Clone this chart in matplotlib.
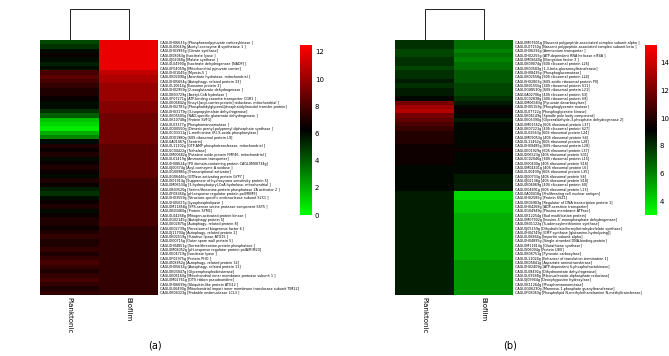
import numpy as np
import matplotlib.pyplot as plt
from matplotlib.colors import LinearSegmentedColormap

samples = ["Planktonic", "Biofilm"]

a_genes = [
    "CAGL0H06633g [Phosphoenolpyruvate carboxykinase ]",
    "CAGL0L00649g [Acetyl-coenzyme A synthetase 1 ]",
    "CAGL0H03993g [Citrate synthase]",
    "CAGL0I08063g [Isocitrate lyase ]",
    "CAGL0J02068g [Malate synthase ]",
    "CAGL0L04990g [Isocitrate dehydrogenase [NADP] ]",
    "CAGL0F04059g [Mitochondrial pyruvate carrier]",
    "CAGL0H01045g [Myosin-5 ]",
    "CAGL0K02090g [Aconitate hydratase, mitochondrial ]",
    "CAGL0H05654g [Autophagy- related protein 33]",
    "CAGL0L10614g [Exosome protein 1]",
    "CAGL0H02959g [2-oxoglutarate dehydrogenase ]",
    "CAGL0B03729g [Acetyl-CoA hydrolase ]",
    "CAGL0F07271g [ATP-binding cassette transporter CGR1 ]",
    "CAGL0E06842g [Enoyl-[acyl-carrier-protein] reductase, mitochondrial ]",
    "CAGL0H02783g [Phosphatidylglycerol/phosphatidylinositol transfer protein]",
    "CAGL0H03179g [3-isopropylmalate dehydrogenase]",
    "CAGL0K05505g [NAD-specific glutamate dehydrogenase ]",
    "CAGL0K10748g [Protein SVF1]",
    "CAGL0L03377g [Phosphomannomutase ]",
    "CAGL0D00550g [Dimeric prenyl-polyprenyl diphosphate synthase ]",
    "CAGL0C03311g [L-methionine (R)-S-oxide phosphorylase]",
    "CAGL0D01980g [60S ribosomal protein L9]",
    "CAGL0A01067g [Sentrin]",
    "CAGL0L11102g [GTP-AMP phosphotransferase, mitochondrial ]",
    "CAGL0C04422g [Trehalase]",
    "CAGL0M00682g [Putative oxide protein FMP46, mitochondrial ]",
    "CAGL0L01419g [Ammonium transporter]",
    "CAGL0H08624g [PX domain-containing protein CAGL0M08734g]",
    "CAGL0J00374g [Acyl-coenzyme A oxidase ]",
    "CAGL0G00986g [Transcriptional activator]",
    "CAGL0G06446g [GTPase-activating protein GYP7 ]",
    "CAGL0I01914g [Suppressor of hydroxyurea sensitivity protein 5]",
    "CAGL0M06534g [3-hydroxybutyryl-CoA hydrolase, mitochondrial ]",
    "CAGL0B03520g [Serine/threonine-protein phosphatase 2A activator 2 ]",
    "CAGL0F08360g [pH-response regulator protein palI/RIM9]",
    "CAGL0H03559g [Structure-specific endonuclease subunit SLX1 ]",
    "CAGL0H05027g [Lysophospholipase ]",
    "CAGL0M11858g [SPS-sensor serine protease component SSY5 ]",
    "CAGL0B03460g [Protein SYM1]",
    "CAGL0L04268g [Mitogen-activated protein kinase ]",
    "CAGL0G02145g [Autophagy protein 5]",
    "CAGL0E02875g [Autophagy- related protein 8]",
    "CAGL0E02739g [Peroxisomal biogenesis factor 6 ]",
    "CAGL0J11704g [Autophagy- related protein 2]",
    "CAGL0K02519g [Putative lipase ATG15 ]",
    "CAGL0I00715g [Outer spore wall protein 5]",
    "CAGL0H04851g [Serine/threonine-protein phosphatase ]",
    "CAGL0M08052g [pH-response regulator protein palA/RIM20]",
    "CAGL0E04719g [Isocitrate lyase ]",
    "CAGL0F02975g [Protein PHO ]",
    "CAGL0I08852g [Autophagy- related protein 32]",
    "CAGL0H05632g [Autophagy- related protein 11]",
    "CAGL0K03047g [Glycerophosphodiesterase]",
    "CAGL0E06160g [Mitochondrial inner membrane protease subunit 1 ]",
    "CAGL0M02761g [DTS ribbon pseudouridine]",
    "CAGL0H06699g [Ubiquitin-like protein ATG12 ]",
    "CAGL0L06490g [Mitochondrial import inner membrane translocase subunit TIM22]",
    "CAGL0K04323g [Probable endonuclease LCL3 ]",
]
a_plank = [4.5, 5.0, 6.0, 6.5, 6.0, 5.5, 6.0, 8.0, 8.5, 8.0, 7.5, 7.0,
           7.0, 6.5, 6.0, 6.0, 5.0, 4.0, 1.5, 1.0, 0.5, 2.0, 3.0, 6.0,
           7.0, 6.5, 7.0, 6.0, 6.5, 7.0, 6.5, 6.0, 7.0, 6.5, 5.5, 5.0,
           6.0, 6.5, 7.0, 6.0, 6.5, 7.0, 7.0, 6.5, 7.0, 7.5, 7.0, 7.0,
           7.5, 7.0, 7.5, 8.0, 7.5, 7.0, 7.5, 8.0, 7.5, 7.0, 7.5]
a_bio = [12.0, 12.0, 12.0, 12.0, 12.0, 12.0, 12.0, 11.0, 10.5, 10.5, 10.0, 10.0,
         10.0, 10.0, 9.5, 9.5, 9.5, 9.0, 9.0, 9.0, 9.0, 9.0, 9.0, 9.0,
         8.5, 8.5, 8.5, 8.5, 8.5, 8.5, 8.5, 8.5, 8.0, 8.0, 8.0, 8.0,
         8.0, 8.0, 8.0, 8.0, 8.0, 8.0, 8.0, 7.5, 7.5, 7.5, 7.5, 7.5,
         7.5, 7.5, 7.5, 7.5, 7.5, 7.5, 7.5, 7.5, 7.5, 7.5, 7.5]

b_genes = [
    "CAGL0M07601g [Nascent polypeptide-associated complex subunit alpha ]",
    "CAGL0L07150g [Nascent polypeptide-associated complex subunit beta ]",
    "CAGL0H06292g [Ammonium transporter ]",
    "CAGL0H02255g [ATP-dependent RNA helicase eIF4A ]",
    "CAGL0M08640g [Elongation factor 3 ]",
    "CAGL0K09074g [60S ribosomal protein L26]",
    "CAGL0K03583g [1,3-beta-glucanosyltransferase]",
    "CAGL0H08435g [Phosphoglucomutase]",
    "CAGL0K02558g [60S ribosomal protein L24]",
    "CAGL0H02803g [60S acidic ribosomal protein P0]",
    "CAGL0B01555g [40S ribosomal protein S11]",
    "CAGL0G08530g [60S ribosomal protein L21]",
    "CAGL0A02706g [40S ribosomal protein S3]",
    "CAGL0C02838g [40S ribosomal protein S9]",
    "CAGL0M06583g [Pyruvate decarboxylase]",
    "CAGL0H05159g [Phosphoglycerate mutase]",
    "CAGL0L07722g [Phosphoglycerate kinase]",
    "CAGL0K06149g [Spindle pole body component]",
    "CAGL0E05390g [Glyceraldehyde-3-phosphate dehydrogenase 2]",
    "CAGL0M01562g [60S ribosomal protein L37]",
    "CAGL0K07221g [40S ribosomal protein S27]",
    "CAGL0L02563g [60S ribosomal protein L24]",
    "CAGL0M09053g [40S ribosomal protein S4]",
    "CAGL0L11462g [60S ribosomal protein L28]",
    "CAGL0H09485g [60S ribosomal protein L28]",
    "CAGL0E01929g [60S ribosomal protein L37]",
    "CAGL0I06523g [40S ribosomal protein S31]",
    "CAGL0C02046g [60S ribosomal protein L15]",
    "CAGL0I00400g [40S ribosomal protein S16]",
    "CAGL0M04401g [40S ribosomal protein L6]",
    "CAGL0L00409g [60S ribosomal protein L35]",
    "CAGL0J00733g [40S ribosomal protein S6]",
    "CAGL0J02138g [40S ribosomal protein S18]",
    "CAGL0K06069g [40S ribosomal protein S0]",
    "CAGL0I04891g [60S ribosomal protein L13]",
    "CAGL0A00418g [Proliferating cell nuclear antigen]",
    "CAGL0H02585g [Protein SSZ1]",
    "CAGL0K04983g [Regulator of DNA transcription protein 1]",
    "CAGL0H04268g [ADP-sensitive transporter]",
    "CAGL0G04949g [Plasma membrane ATPase]",
    "CAGL0K12254g [Bud modification protein]",
    "CAGL0M07902g [Inosine-5'-monophosphate dehydrogenase]",
    "CAGL0B01122g [S-adenosylmethionine synthase]",
    "CAGL0J05159g [Dihydrofolate/formyltetrahydrofolate synthase]",
    "CAGL0H04749g [GMP synthase [glutamine-hydrolyzing]]",
    "CAGL0L06864g [Importin subunit alpha]",
    "CAGL0H04895g [Single-stranded DNA-binding protein]",
    "CAGL0M11814g [Glutathione synthase]",
    "CAGL0I06094g [Protein UBX]",
    "CAGL0K06751g [Pyruvate carboxylase]",
    "CAGL0L11024g [Enhancer of translation termination 1]",
    "CAGL0K05841g [Aspartate aminotransferase]",
    "CAGL0H02409g [ATP-dependent 6-phosphofructokinase]",
    "CAGL0L08492g [Dihydroorotate dehydrogenase]",
    "CAGL0L09188g [Ribonucleoside-diphosphate reductase]",
    "CAGL0J09944g [Deoxyhypusine hydroxylase]",
    "CAGL0K11264g [Phosphomannomutase]",
    "CAGL0G06230g [Mannose-1-phosphate guanyltransferase]",
    "CAGL0F08063g [Phospholipid N-methylethanolamine N-methyltransferase]",
]
b_plank = [8.0, 8.0, 7.5, 7.5, 8.0, 8.0, 7.5, 8.0, 8.0, 8.5, 8.0, 8.5,
           8.5, 9.0, 12.0, 13.0, 13.5, 12.0, 11.5, 11.0, 10.5, 10.0, 10.0, 10.0,
           9.5, 9.5, 9.5, 9.5, 9.5, 9.0, 9.0, 9.0, 9.0, 9.0, 9.0, 8.5,
           8.5, 8.5, 8.5, 8.5, 8.5, 8.5, 8.5, 8.5, 8.5, 8.5, 8.5, 8.5,
           8.5, 8.5, 8.5, 8.5, 8.5, 8.5, 8.5, 8.5, 8.5, 8.5, 8.5]
b_bio = [6.5, 6.5, 6.0, 6.5, 6.0, 6.5, 6.5, 7.0, 7.0, 7.0, 7.5, 7.5,
         7.5, 8.0, 8.5, 9.0, 9.5, 9.0, 8.5, 9.0, 9.0, 9.0, 9.0, 9.0,
         9.0, 9.5, 9.0, 9.0, 9.0, 9.0, 9.0, 8.5, 8.5, 8.5, 8.5, 4.0,
         4.0, 4.5, 4.5, 4.5, 5.0, 5.0, 5.0, 5.0, 5.0, 5.0, 5.0, 5.0,
         5.0, 5.0, 5.0, 5.5, 5.5, 5.5, 5.5, 5.5, 5.5, 5.5, 5.5]

cmap = LinearSegmentedColormap.from_list("gbr", ["#00ff00", "#000000", "#ff0000"])

W, H = 669, 356
fig = plt.figure(figsize=(W / 100, H / 100), dpi=100)


def px(x0, y0, x1, y1):
    # pixel box -> figure fraction rect
    return [x0 / W, 1 - y1 / H, (x1 - x0) / W, (y1 - y0) / H]


def panel(hm_box, den_box, cb_box, genes, plank, bio, vmin, vmax, ticks, tag, tag_xy):
    data = np.column_stack([plank, bio])
    n = len(genes)

    ax = fig.add_axes(px(*hm_box))
    im = ax.imshow(data, cmap=cmap, vmin=vmin, vmax=vmax, aspect="auto",
                   interpolation="nearest")
    ax.set_xticks(range(2))
    ax.set_xticklabels(samples, rotation=-90, fontsize=5)
    ax.set_yticks(range(n))
    ax.set_yticklabels(genes, fontsize=2.4)
    ax.yaxis.tick_right()
    ax.tick_params(length=0, pad=1.5)
    for s in ax.spines.values():
        s.set_visible(False)

    # column dendrogram: two leaves joined at the top
    dax = fig.add_axes(px(*den_box))
    dax.plot([0.5, 0.5, 1.5, 1.5], [0, 1, 1, 0], color="black", lw=0.6)
    dax.set_xlim(0, 2)
    dax.set_ylim(0, 1.02)
    dax.axis("off")

    cax = fig.add_axes(px(*cb_box))
    cb = fig.colorbar(im, cax=cax, ticks=ticks)
    cb.outline.set_visible(False)
    cb.ax.tick_params(labelsize=5, length=0, pad=2)

    fig.text(tag_xy[0] / W, 1 - tag_xy[1] / H, tag, fontsize=7, ha="center", va="center")


panel((40, 40, 158, 295), (40, 8, 158, 40), (300, 45, 312, 215),
      a_genes, a_plank, a_bio, 0, 12.5, [0, 2, 4, 6, 8, 10, 12], "(a)", (155, 345))
panel((395, 40, 513, 295), (395, 8, 513, 40), (645, 45, 657, 215),
      b_genes, b_plank, b_bio, 3, 15.3, [4, 6, 8, 10, 12, 14], "(b)", (510, 345))

fig.savefig("out.png", dpi=100)
